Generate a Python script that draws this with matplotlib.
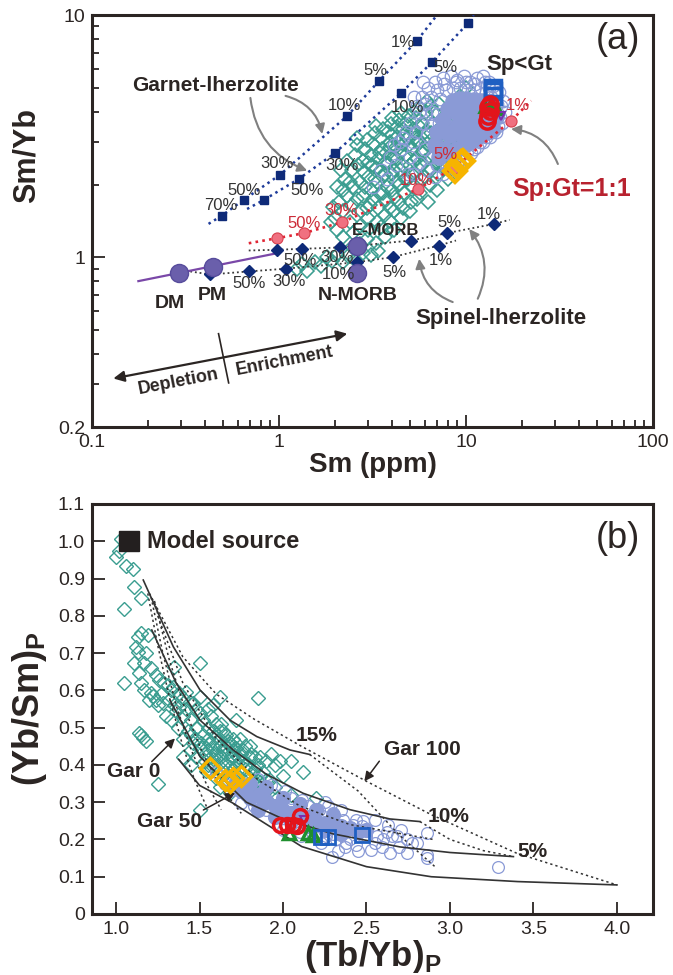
import numpy as np
import matplotlib.pyplot as plt
from matplotlib.ticker import FixedLocator, NullFormatter, FixedFormatter

plt.rcParams['font.family'] = ['Liberation Sans', 'DejaVu Sans']
plt.rcParams['mathtext.fontset'] = 'custom'
plt.rcParams['mathtext.rm'] = 'Liberation Sans'
plt.rcParams['mathtext.bf'] = 'Liberation Sans:bold'

INK = '#2b2523'
TEAL = '#3a9d90'
PERI = '#8a9ad6'
NAVY = '#0e2a78'
RED = '#e3141b'
PINK = '#f07080'
MAUVE = '#6a5fab'
GOLD = '#f6b400'
BLUE = '#1f5fc2'
GREEN = '#1f8f2e'
GREY = '#808080'

# ---------------- (a) Sm vs Sm/Yb ----------------
# garnet-lherzolite melting curves (Sm, Sm/Yb)
gt1_sm = [0.496, 0.648, 1.01, 2.32, 3.43, 5.46]
gt1_ratio = [1.49, 1.73, 2.19, 3.84, 5.35, 7.82]
gt1_line_sm = [0.42, 0.496, 0.648, 1.01, 2.32, 3.43, 5.46, 7.0]
gt1_line_ratio = [1.376, 1.49, 1.73, 2.19, 3.84, 5.35, 7.82, 10.0]

gt2_sm = [0.829, 1.277, 1.984, 4.48, 6.55, 10.3]
gt2_ratio = [1.727, 2.11, 2.69, 4.75, 6.37, 9.3]
gt2_line_sm = [0.675, 0.829, 1.277, 1.984, 4.48, 6.55, 10.3, 11.0]
gt2_line_ratio = [1.585, 1.727, 2.11, 2.69, 4.75, 6.37, 9.3, 10.0]

# Sp:Gt = 1:1 melting curve
sg_sm = [0.97, 1.36, 2.18, 5.55, 8.65, 17.4]
sg_ratio = [1.20, 1.26, 1.40, 1.92, 2.35, 3.66]
sg_line_sm = [0.689, 0.97, 1.36, 2.18, 5.55, 8.65, 17.4, 22.3]
sg_line_ratio = [1.145, 1.20, 1.26, 1.40, 1.92, 2.35, 3.66, 4.43]

# spinel-lherzolite melting curves
sp1_sm = [0.978, 1.33, 2.12, 5.07, 7.88, 14.2]
sp1_ratio = [1.076, 1.086, 1.10, 1.175, 1.26, 1.376]
sp1_line_sm = [0.689, 0.978, 1.33, 2.12, 5.07, 7.88, 14.2, 17.1]
sp1_line_ratio = [1.069, 1.076, 1.086, 1.10, 1.175, 1.26, 1.376, 1.43]

sp2_sm = [0.429, 0.689, 1.084, 2.60, 4.05, 7.14]
sp2_ratio = [0.851, 0.876, 0.899, 0.956, 1.003, 1.12]
sp2_line_sm = [0.3355, 0.429, 0.689, 1.084, 2.60, 4.05, 7.14, 8.84]
sp2_line_ratio = [0.876, 0.851, 0.876, 0.899, 0.956, 1.003, 1.12, 1.175]

# DM - PM array
mix_sm = [0.177, 0.937]
mix_ratio = [0.799, 1.035]

# reservoirs: DM, PM, E-MORB, N-MORB
res_sm = [0.293, 0.444, 2.60, 2.60]
res_ratio = [0.862, 0.918, 1.12, 0.862]

# samples, panel (a)
teal_a = [
    (1.25, 0.90), (1.33, 0.94), (1.42, 0.88), (1.55, 0.96), (1.68, 0.92), (1.80, 1.00),
    (1.92, 0.97), (2.05, 1.02), (2.2, 0.96), (2.35, 1.01), (2.55, 0.98), (2.8, 1.04),
    (3.1, 1.02), (3.4, 1.06), (2.45, 1.1), (2.7, 1.14), (2.95, 1.19), (3.3, 1.15),
    (3.7, 1.22), (4.1, 1.3), (2.2, 1.22), (2.5, 1.26), (3.0, 1.3), (3.5, 1.34),
    (3.9, 1.42), (4.5, 1.45), (5.0, 1.55), (2.0, 1.45), (2.1, 1.7), (1.95, 1.62),
    (2.05, 1.95), (2.2, 1.55), (2.3, 1.8), (2.25, 2.1), (2.4, 1.4), (2.45, 1.65),
    (2.5, 1.95), (2.45, 2.3), (2.55, 2.65), (2.6, 2.9), (2.7, 1.35), (2.75, 1.55),
    (2.8, 1.8), (2.7, 2.05), (2.85, 2.25), (2.8, 2.5), (2.9, 2.8), (2.95, 3.05),
    (3.0, 1.45), (3.05, 1.65), (3.1, 1.9), (3.0, 2.15), (3.15, 2.4), (3.1, 2.65),
    (3.2, 2.95), (3.25, 3.25), (3.35, 1.4), (3.4, 1.6), (3.45, 1.82), (3.35, 2.05),
    (3.5, 2.28), (3.4, 2.55), (3.55, 2.8), (3.5, 3.1), (3.6, 3.4), (3.7, 1.5),
    (3.75, 1.72), (3.8, 1.95), (3.7, 2.2), (3.85, 2.45), (3.75, 2.7), (3.9, 3.0),
    (3.85, 3.3), (3.95, 3.55), (4.1, 1.55), (4.15, 1.78), (4.2, 2.05), (4.1, 2.3),
    (4.25, 2.55), (4.2, 2.85), (4.3, 3.15), (4.25, 3.45), (4.4, 3.7), (4.6, 1.6),
    (4.65, 1.85), (4.7, 2.1), (4.55, 2.4), (4.75, 2.65), (4.6, 2.95), (4.8, 3.25),
    (4.7, 3.55), (4.9, 3.85), (5.1, 1.7), (5.2, 1.95), (5.15, 2.2), (5.3, 2.5),
    (5.1, 2.8), (5.35, 3.1), (5.2, 3.4), (5.4, 3.75), (5.5, 4.1), (5.7, 1.85),
    (5.8, 2.1), (5.75, 2.4), (5.9, 2.7), (5.7, 3.0), (6.0, 3.3), (5.85, 3.6),
    (6.1, 4.0), (6.2, 4.4), (6.4, 2.0), (6.5, 2.3), (6.4, 2.6), (6.6, 2.9),
    (6.5, 3.25), (6.7, 3.6), (6.8, 4.0), (7.1, 2.2), (7.2, 2.5), (7.3, 2.8),
    (7.1, 3.15), (7.4, 3.5), (7.6, 2.35), (7.9, 2.65), (8.2, 3.0), (8.0, 3.4),
    (8.6, 2.6), (9.0, 2.9), (8.8, 3.8), (9.5, 4.2), (10.0, 5.0), (9.2, 4.6),
    (8.3, 4.2), (2.3, 2.5), (2.15, 2.3), (2.6, 3.1), (3.3, 3.5), (4.0, 3.75),
    (4.5, 3.95), (2.05, 1.3), (1.9, 1.4), (6.3, 1.7), (7.0, 1.9), (8.0, 2.1),
    (3.2, 1.75), (3.6, 1.85), (4.0, 1.9), (4.4, 2.0), (4.9, 2.1), (3.3, 2.35),
    (3.7, 2.45), (4.05, 2.6), (4.45, 2.7), (4.95, 2.9), (5.5, 3.0), (3.45, 2.7),
    (3.9, 2.85), (4.35, 3.0), (4.85, 3.1), (5.25, 3.25), (2.9, 1.95), (3.25, 2.1),
    (3.6, 2.15), (4.0, 2.2), (4.45, 2.3), (5.0, 2.4), (5.5, 2.55), (6.0, 2.5),
    (2.6, 1.75), (2.95, 1.6), (3.9, 1.6), (4.4, 1.7), (5.5, 1.75), (6.0, 2.15),
    (6.9, 2.45), (6.2, 2.95), (6.9, 3.3), (5.6, 3.5), (4.6, 3.4), (4.0, 3.2),
    (3.0, 2.45), (2.65, 2.4), (2.4, 2.05), (2.2, 1.9), (5.3, 4.0), (6.5, 4.2),
    (7.2, 4.3), (7.6, 3.8), (8.5, 3.4), (7.8, 3.0),
]

peri_a = [
    (4.6, 3.1), (5.0, 3.6), (5.5, 4.2), (5.8, 4.6), (6.3, 5.0), (6.8, 5.3), (7.5, 5.5),
    (8.3, 5.6), (9.0, 5.4), (9.8, 5.6), (10.5, 5.3), (11.5, 5.5), (12.3, 5.6), (13.2, 5.3),
    (14.0, 5.1), (15.0, 4.8), (15.8, 4.4), (16.2, 4.0), (15.5, 3.6), (14.5, 3.3),
    (13.5, 3.15), (12.4, 3.0), (11.5, 2.85), (10.6, 2.7), (9.8, 2.55), (9.0, 2.45),
    (8.2, 2.3), (7.5, 2.2), (6.8, 2.15), (6.2, 2.3), (5.6, 2.45), (5.0, 2.6), (4.5, 2.8),
    (4.2, 2.4), (3.8, 2.1), (5.2, 3.0), (6.0, 2.8), (6.5, 3.5), (7.0, 3.9), (7.3, 4.5),
    (7.8, 4.9), (8.5, 5.0), (9.3, 5.0), (10.2, 4.9), (11.0, 4.9), (12.0, 5.0), (12.8, 4.8),
    (13.6, 4.6), (14.6, 4.3), (14.9, 3.9), (6.1, 3.9), (5.4, 3.3), (4.9, 2.2), (5.9, 5.3),
    (5.3, 4.6), (6.0, 4.3), (6.5, 4.6), (7.0, 4.9), (7.6, 5.2), (8.8, 5.3), (10.0, 5.3),
    (11.2, 5.2), (12.6, 5.3), (13.3, 5.0), (14.3, 4.7), (15.4, 4.2), (15.2, 3.8), (14.8, 3.5),
    (13.8, 3.3), (12.8, 3.15), (11.9, 3.0), (11.0, 2.8), (10.1, 2.75), (9.4, 2.65), (8.6, 2.5),
    (7.8, 2.45), (7.0, 2.4), (6.6, 2.6), (6.2, 3.2), (5.8, 3.6), (5.6, 4.0), (6.6, 4.0),
    (7.2, 3.6), (6.9, 3.0), (4.8, 3.3), (4.4, 3.0), (3.9, 2.6), (4.1, 2.9), (3.5, 2.3),
    (3.2, 1.95), (5.2, 2.2),
]
peri_a_core = [
    (7.0, 3.3), (7.5, 3.7), (8.0, 4.1), (8.5, 4.4), (9.2, 4.5), (10.0, 4.5), (11.0, 4.45),
    (12.0, 4.4), (13.0, 4.3), (14.0, 4.1), (14.5, 3.8), (14.0, 3.4), (13.0, 3.3), (12.0, 3.2),
    (11.0, 3.05), (10.0, 2.95), (9.0, 2.8), (8.3, 2.7), (7.6, 2.8), (8.2, 3.2), (9.0, 3.5),
    (10.0, 3.7), (11.0, 3.7), (12.0, 3.8), (13.0, 3.8), (9.5, 3.2), (10.5, 3.3), (11.5, 3.4),
    (8.8, 4.0), (9.8, 4.1), (10.8, 4.1), (11.8, 4.1), (12.8, 4.0), (7.8, 3.3), (6.8, 2.9),
    (7.2, 2.6),
]
gold_a = [(9.4, 2.47), (8.7, 2.28), (9.0, 2.38), (9.6, 2.51)]
sq_a = [(13.9, 4.87), (13.9, 4.64), (14.0, 5.0)]
red_a = [(13.1, 4.16), (13.5, 4.29), (12.9, 3.66), (13.1, 3.84), (13.5, 4.02)]
tri_a = [(13.5, 4.16), (14.7, 4.1), (12.6, 4.16)]
vio_a = [(15.4, 3.84)]

# ---------------- (b) (Tb/Yb)P vs (Yb/Sm)P ----------------
# melting curves
s1_x = [1.163, 1.343, 1.503, 1.683, 1.843, 2.042, 2.16]
s1_y = [0.896, 0.717, 0.601, 0.52, 0.476, 0.44, 0.428]
s2_x = [1.214, 1.36, 1.503, 1.702, 1.9, 2.12, 2.4, 2.64, 2.82]
s2_y = [0.762, 0.62, 0.52, 0.44, 0.375, 0.324, 0.28, 0.255, 0.248]
s3_x = [1.323, 1.503, 1.78, 2.0, 2.3, 2.7, 3.0, 3.38]
s3_y = [0.574, 0.422, 0.3, 0.255, 0.215, 0.18, 0.165, 0.154]
s4_x = [1.375, 1.5, 1.698, 2.112, 2.5, 2.888, 3.405, 4.0]
s4_y = [0.415, 0.345, 0.298, 0.181, 0.127, 0.10, 0.087, 0.078]

d1_x = [1.19, 1.25, 1.32, 1.40, 1.47, 1.55]
d1_y = [0.86, 0.72, 0.58, 0.45, 0.36, 0.28]
d2_x = [1.21, 1.28, 1.36, 1.45, 1.54, 1.63]
d2_y = [0.85, 0.70, 0.56, 0.44, 0.35, 0.28]
d3_x = [1.23, 1.32, 1.42, 1.52, 1.63, 1.75]
d3_y = [0.84, 0.68, 0.54, 0.43, 0.34, 0.27]
d4_x = [1.25, 1.40, 1.60, 1.85, 2.1, 2.4, 2.9]
d4_y = [0.80, 0.62, 0.47, 0.36, 0.29, 0.24, 0.20]
d5_x = [1.20, 1.40, 1.60, 1.83, 2.11, 2.5, 2.89, 3.40, 4.0]
d5_y = [0.86, 0.69, 0.59, 0.522, 0.45, 0.356, 0.266, 0.163, 0.078]
d6_x = [2.16, 2.45, 2.70, 2.91]
d6_y = [0.428, 0.33, 0.21, 0.127]
d7_x = [2.82, 3.0, 3.2, 3.38]
d7_y = [0.248, 0.2, 0.17, 0.154]

source_x, source_y = 1.08, 1.0

teal_b = [
    (1.03, 1.005), (1.02, 0.975), (1.00, 0.958), (1.06, 0.935), (1.10, 0.925), (1.11, 0.878),
    (1.15, 0.848), (1.05, 0.818), (1.15, 0.753), (1.13, 0.743), (1.19, 0.748), (1.12, 0.717),
    (1.13, 0.704), (1.11, 0.673), (1.17, 0.673), (1.21, 0.659), (1.14, 0.646), (1.05, 0.619),
    (1.15, 0.619), (1.26, 0.628), (1.35, 0.664), (1.50, 0.674), (1.21, 0.592), (1.24, 0.574),
    (1.31, 0.614), (1.34, 0.610), (1.28, 0.565), (1.38, 0.592), (1.42, 0.596), (1.46, 0.565),
    (1.50, 0.583), (1.62, 0.583), (1.14, 0.485), (1.16, 0.471), (1.30, 0.530), (1.38, 0.556),
    (1.20, 0.575), (1.22, 0.585), (1.25, 0.56), (1.27, 0.59), (1.32, 0.575), (1.36, 0.545),
    (1.40, 0.53), (1.33, 0.52), (1.37, 0.50), (1.42, 0.55), (1.45, 0.52), (1.48, 0.50),
    (1.43, 0.49), (1.40, 0.47), (1.46, 0.46), (1.50, 0.54), (1.52, 0.48), (1.55, 0.50),
    (1.50, 0.445), (1.53, 0.43), (1.56, 0.46), (1.58, 0.44), (1.60, 0.475), (1.62, 0.45),
    (1.58, 0.415), (1.61, 0.42), (1.64, 0.40), (1.66, 0.43), (1.68, 0.45), (1.70, 0.42),
    (1.72, 0.40), (1.65, 0.38), (1.68, 0.395), (1.74, 0.385), (1.76, 0.41), (1.78, 0.37),
    (1.80, 0.39), (1.82, 0.36), (1.75, 0.35), (1.84, 0.345), (1.86, 0.37), (1.88, 0.35),
    (1.90, 0.33), (1.92, 0.36), (1.55, 0.40), (1.52, 0.52), (1.57, 0.53), (1.63, 0.51),
    (1.66, 0.48), (1.70, 0.47), (1.72, 0.445), (1.48, 0.42), (1.45, 0.44), (1.54, 0.385),
    (1.60, 0.365), (1.93, 0.43), (1.98, 0.41), (2.05, 0.41), (2.12, 0.38), (1.85, 0.58),
    (1.72, 0.52), (1.80, 0.45), (1.95, 0.40), (2.00, 0.37), (2.20, 0.31), (2.05, 0.32),
    (1.97, 0.315), (1.15, 0.48), (1.18, 0.465), (1.25, 0.35), (1.50, 0.28), (1.68, 0.325),
    (1.62, 0.34), (1.45, 0.40), (1.40, 0.42),
    (1.55, 0.47), (1.58, 0.49), (1.62, 0.47), (1.65, 0.45), (1.60, 0.43), (1.63, 0.42),
    (1.67, 0.41), (1.70, 0.39), (1.73, 0.42), (1.75, 0.43), (1.78, 0.40), (1.80, 0.42),
    (1.83, 0.39), (1.85, 0.40), (1.88, 0.38), (1.70, 0.44), (1.68, 0.46), (1.74, 0.47),
    (1.77, 0.45), (1.64, 0.49), (1.60, 0.51), (1.55, 0.55), (1.58, 0.56), (1.48, 0.55),
    (1.44, 0.57), (1.40, 0.58), (1.45, 0.48), (1.51, 0.46), (1.48, 0.47), (1.35, 0.56),
    (1.33, 0.60), (1.29, 0.62), (1.24, 0.64), (1.18, 0.70), (1.17, 0.60), (1.90, 0.36),
    (1.86, 0.33), (1.82, 0.34), (1.79, 0.35), (1.95, 0.34), (1.70, 0.36), (1.66, 0.36),
    (1.57, 0.42), (1.53, 0.41), (1.83, 0.42), (1.90, 0.41),
    (1.59, 0.455), (1.64, 0.435), (1.69, 0.425), (1.73, 0.405), (1.77, 0.39), (1.81, 0.375),
    (1.62, 0.49), (1.67, 0.465), (1.72, 0.46), (1.76, 0.44), (1.81, 0.43), (1.86, 0.42),
    (1.54, 0.445), (1.57, 0.40), (1.62, 0.385), (1.67, 0.37), (1.73, 0.37), (1.86, 0.355),
]
peri_b = [
    (2.862, 0.217), (2.862, 0.158), (2.862, 0.149), (3.289, 0.127), (2.771, 0.19), (2.745, 0.163),
    (2.642, 0.163), (2.694, 0.181), (2.655, 0.208), (2.59, 0.181), (2.552, 0.19), (2.526, 0.172),
    (2.552, 0.253), (2.435, 0.253), (2.358, 0.253), (2.293, 0.154), (2.267, 0.289), (2.215, 0.28),
    (2.112, 0.307), (2.009, 0.329), (1.931, 0.347), (1.853, 0.361), (1.75, 0.298), (1.828, 0.289),
    (1.905, 0.307), (2.0, 0.226), (2.11, 0.208), (2.228, 0.19), (2.37, 0.181), (2.474, 0.235),
    (2.629, 0.239), (2.707, 0.226), (1.62, 0.37), (1.68, 0.33), (1.78, 0.32), (2.4, 0.2),
    (2.5, 0.21), (2.3, 0.215), (2.2, 0.235), (2.6, 0.2),
    (1.72, 0.36), (1.78, 0.34), (1.84, 0.30), (1.9, 0.28), (1.96, 0.27), (2.02, 0.26),
    (2.08, 0.25), (2.14, 0.245), (2.2, 0.22), (2.26, 0.21), (2.32, 0.2), (2.38, 0.19),
    (2.44, 0.185), (2.56, 0.21), (2.62, 0.22), (2.68, 0.21), (2.74, 0.2), (2.8, 0.19),
    (2.42, 0.24), (2.48, 0.25), (2.3, 0.27), (2.35, 0.28), (2.25, 0.3), (2.15, 0.29),
    (2.05, 0.31), (1.95, 0.32), (1.88, 0.33), (1.65, 0.35), (1.6, 0.38), (2.33, 0.17),
    (2.45, 0.17), (2.1, 0.22),
]
peri_b_core = [
    (1.75, 0.33), (1.80, 0.31), (1.85, 0.32), (1.90, 0.30), (1.95, 0.29), (2.00, 0.28),
    (2.05, 0.27), (2.10, 0.265), (2.15, 0.26), (2.20, 0.25), (2.25, 0.245), (2.30, 0.24),
    (2.35, 0.235), (2.40, 0.23), (1.85, 0.28), (1.95, 0.26), (2.05, 0.25), (2.15, 0.235),
    (2.25, 0.225), (2.35, 0.215), (1.90, 0.34), (2.00, 0.31), (2.10, 0.295), (2.20, 0.28),
    (2.30, 0.265), (1.80, 0.35), (1.70, 0.34), (2.45, 0.22), (2.50, 0.225),
]
gold_b = [(1.565, 0.393), (1.655, 0.36), (1.70, 0.366), (1.75, 0.37), (1.68, 0.355)]
red_b = [(1.983, 0.239), (2.021, 0.239), (2.06, 0.239), (2.099, 0.262), (2.086, 0.236)]
tri_b = [(2.034, 0.217), (2.151, 0.217), (2.177, 0.212)]
vio_b = [(2.125, 0.253)]
sq_b = [(2.228, 0.206), (2.267, 0.206), (2.474, 0.212)]


def xy(points):
    arr = np.array(points)
    return arr[:, 0], arr[:, 1]


fig = plt.figure(figsize=(6.73, 9.75), dpi=100)
ax1 = fig.add_axes([92 / 673, 1 - 427 / 975, 561 / 673, 412 / 975])
ax2 = fig.add_axes([92 / 673, 1 - 914 / 975, 561 / 673, 410 / 975])

for ax in (ax1, ax2):
    for sp in ax.spines.values():
        sp.set_linewidth(2.2)
        sp.set_color(INK)
    ax.tick_params(which='both', direction='in', colors=INK, labelcolor=INK,
                   labelsize=14, top=False, right=False, width=1.3)
    ax.tick_params(which='major', length=9, pad=5)
    ax.tick_params(which='minor', length=5)

# ---- panel (a)
ax1.set_xscale('log')
ax1.set_yscale('log')
ax1.set_xlim(0.1, 100)
ax1.set_ylim(0.2, 10)
ax1.xaxis.set_major_locator(FixedLocator([0.1, 1, 10, 100]))
ax1.xaxis.set_major_formatter(FixedFormatter(['0.1', '1', '10', '100']))
ax1.xaxis.set_minor_locator(FixedLocator([k * 10.0 ** e for e in (-1, 0, 1) for k in range(2, 10)]))
ax1.xaxis.set_minor_formatter(NullFormatter())
ax1.yaxis.set_major_locator(FixedLocator([0.2, 1, 10]))
ax1.yaxis.set_major_formatter(FixedFormatter(['0.2', '1', '10']))
ax1.yaxis.set_minor_locator(FixedLocator([0.3, 0.4, 0.5, 0.6, 0.7, 0.8, 0.9] + list(range(2, 10))))
ax1.yaxis.set_minor_formatter(NullFormatter())
ax1.set_xlabel('Sm (ppm)', fontsize=20, fontweight='bold', color=INK, labelpad=1)
ax1.set_ylabel('Sm/Yb', fontsize=22, fontweight='bold', color=INK)
ax1.yaxis.set_label_coords(-0.09, 0.66)

x, y = xy(teal_a)
ax1.plot(x, y, 'D', ms=7.5, mfc='none', mec=TEAL, mew=1.15, zorder=2)
x, y = xy(peri_a_core)
ax1.plot(x, y, 'o', ms=11, mfc=PERI, mec=PERI, mew=0.9, zorder=2)
x, y = xy(peri_a)
ax1.plot(x, y, 'o', ms=9, mfc='none', mec=PERI, mew=0.9, zorder=2)

dot = (0, (1, 1.6))
ax1.plot(gt1_line_sm, gt1_line_ratio, color='#1f3c9a', lw=1.8, ls=dot, zorder=3)
ax1.plot(gt2_line_sm, gt2_line_ratio, color='#1f3c9a', lw=1.8, ls=dot, zorder=3)
ax1.plot(gt1_sm, gt1_ratio, 's', ms=6, color=NAVY, zorder=4)
ax1.plot(gt2_sm, gt2_ratio, 's', ms=6, color=NAVY, zorder=4)
ax1.plot(sg_line_sm, sg_line_ratio, color='#e02634', lw=1.9, ls=dot, zorder=3)
ax1.plot(sg_sm, sg_ratio, 'o', ms=8, mfc=PINK, mec='#d8404e', mew=0.8, zorder=4)
ax1.plot(sp1_line_sm, sp1_line_ratio, color='#3a3a3a', lw=1.3, ls=dot, zorder=3)
ax1.plot(sp2_line_sm, sp2_line_ratio, color='#3a3a3a', lw=1.3, ls=dot, zorder=3)
ax1.plot(sp1_sm, sp1_ratio, 'D', ms=6, color=NAVY, zorder=4)
ax1.plot(sp2_sm, sp2_ratio, 'D', ms=6, color=NAVY, zorder=4)
ax1.plot(mix_sm, mix_ratio, color='#7a48a8', lw=1.6, zorder=3)
ax1.plot(res_sm, res_ratio, 'o', ms=13, mfc=MAUVE, mec='#574c9c', mew=1, zorder=5)

x, y = xy(gold_a)
ax1.plot(x, y, 'D', ms=11, mfc='none', mec=GOLD, mew=3, zorder=6)
x, y = xy(sq_a)
ax1.plot(x, y, 's', ms=11, mfc='none', mec=BLUE, mew=2.5, zorder=6)
x, y = xy(red_a)
ax1.plot(x, y, 'o', ms=11, mfc='none', mec=RED, mew=2.5, zorder=7)
x, y = xy(tri_a)
ax1.plot(x, y, '^', ms=9, mfc=GREEN, mec=GREEN, mew=1.5, zorder=6)
x, y = xy(vio_a)
ax1.plot(x, y, 'v', ms=6, mfc='none', mec='#7a2fb0', mew=1.5, zorder=6)

# curve labels
pct_kw = dict(fontsize=12, color='#333333', ha='center', va='center', zorder=8)
for txt, xx, yy in [('70%', 0.486, 1.637), ('50%', 0.648, 1.887), ('30%', 0.978, 2.43),
                    ('10%', 2.23, 4.22), ('5%', 3.29, 5.88), ('1%', 4.58, 7.69),
                    ('50%', 1.416, 1.887), ('30%', 2.18, 2.39), ('10%', 4.86, 4.16),
                    ('5%', 7.81, 6.07),
                    ('50%', 1.30, 0.972), ('30%', 2.05, 1.0), ('5%', 8.14, 1.40), ('1%', 13.3, 1.51),
                    ('50%', 0.689, 0.779), ('30%', 1.13, 0.797), ('10%', 2.09, 0.851),
                    ('5%', 4.13, 0.87), ('1%', 7.34, 0.972)]:
    ax1.text(xx, yy, txt, **pct_kw)
red_kw = dict(fontsize=12, color='#cc2b38', ha='center', va='center', zorder=8)
for txt, xx, yy in [('50%', 1.36, 1.376), ('30%', 2.14, 1.56), ('10%', 5.4, 2.07),
                    ('5%', 7.81, 2.67), ('1%', 18.9, 4.22)]:
    ax1.text(xx, yy, txt, **red_kw)

bold = dict(fontweight='bold', color=INK, ha='center', va='center', zorder=8)
ax1.text(0.262, 0.645, 'DM', fontsize=14, **bold)
ax1.text(0.439, 0.698, 'PM', fontsize=14, **bold)
ax1.text(2.63, 0.698, 'N-MORB', fontsize=14, **bold)
ax1.text(3.73, 1.29, 'E-MORB', fontsize=12, **bold)
ax1.text(0.163, 5.1, 'Garnet-lherzolite', fontsize=15, fontweight='bold', color=INK,
         ha='left', va='center', zorder=8)
ax1.text(15.4, 0.56, 'Spinel-lherzolite', fontsize=16, **bold)
ax1.text(19.3, 6.27, 'Sp<Gt', fontsize=16, **bold)
ax1.text(36.6, 1.92, 'Sp:Gt=1:1', fontsize=18, fontweight='bold', color='#b8222f',
         ha='center', va='center')
ax1.text(0.938, 0.94, '(a)', transform=ax1.transAxes, fontsize=26, color=INK,
         ha='center', va='center')

garrow = dict(arrowstyle='-|>', color=GREY, lw=1.5, mutation_scale=14, shrinkA=0, shrinkB=0)
ax1.annotate('', xy=(1.416, 2.28), xytext=(0.703, 4.55),
             arrowprops=dict(garrow, connectionstyle='arc3,rad=0.3'))
ax1.annotate('', xy=(1.705, 3.23), xytext=(1.084, 4.64),
             arrowprops=dict(garrow, connectionstyle='arc3,rad=-0.3'))
ax1.annotate('', xy=(17.4, 3.39), xytext=(31.0, 2.43),
             arrowprops=dict(garrow, connectionstyle='arc3,rad=0.3'))
ax1.annotate('', xy=(5.62, 0.988), xytext=(8.49, 0.655),
             arrowprops=dict(garrow, connectionstyle='arc3,rad=-0.3'))
ax1.annotate('', xy=(10.4, 1.31), xytext=(11.56, 0.676),
             arrowprops=dict(garrow, connectionstyle='arc3,rad=0.3'))

# depletion / enrichment arrow
ax1.annotate('', xy=(0.130, 0.317), xytext=(2.32, 0.485),
             arrowprops=dict(arrowstyle='<|-|>', color=INK, lw=1.6, mutation_scale=16,
                             shrinkA=0, shrinkB=0))
ax1.plot([0.475, 0.538], [0.485, 0.304], color=INK, lw=1.2)
ax1.text(0.290, 0.307, 'Depletion', fontsize=13, rotation=11, **bold)
ax1.text(1.07, 0.374, 'Enrichment', fontsize=13, rotation=11, **bold)

# ---- panel (b)
ax2.set_xlim(0.856, 4.216)
ax2.set_ylim(0, 1.1)
ax2.set_xticks([1.0, 1.5, 2.0, 2.5, 3.0, 3.5, 4.0])
ax2.set_xticklabels(['1.0', '1.5', '2.0', '2.5', '3.0', '3.5', '4.0'])
yt = [0, 0.1, 0.2, 0.3, 0.4, 0.5, 0.6, 0.7, 0.8, 0.9, 1.0, 1.1]
ax2.set_yticks(yt)
ax2.set_yticklabels(['0'] + ['%.1f' % v for v in yt[1:]])
ax2.set_xlabel(r'$\mathbf{(Tb/Yb)}_{\mathbf{P}}$', fontsize=25, color=INK, labelpad=0)
ax2.set_ylabel(r'$\mathbf{(Yb/Sm)}_{\mathbf{P}}$', fontsize=26, color=INK, labelpad=6)

x, y = xy(teal_b)
ax2.plot(x, y, 'D', ms=6.8, mfc='none', mec=TEAL, mew=1.0, zorder=2)
x, y = xy(peri_b_core)
ax2.plot(x, y, 'o', ms=10, mfc=PERI, mec=PERI, mew=0.9, zorder=2)
x, y = xy(peri_b)
ax2.plot(x, y, 'o', ms=8.5, mfc='none', mec=PERI, mew=0.9, zorder=2)

for cx, cy in [(s1_x, s1_y), (s2_x, s2_y), (s3_x, s3_y), (s4_x, s4_y)]:
    ax2.plot(cx, cy, color='#333333', lw=1.2, zorder=3)
for cx, cy in [(d1_x, d1_y), (d2_x, d2_y), (d3_x, d3_y), (d4_x, d4_y), (d5_x, d5_y),
               (d6_x, d6_y), (d7_x, d7_y)]:
    ax2.plot(cx, cy, color='#333333', lw=1.1, ls=(0, (1.5, 2)), zorder=3)

x, y = xy(gold_b)
ax2.plot(x, y, 'D', ms=10, mfc='none', mec=GOLD, mew=2.5, zorder=6)
x, y = xy(red_b)
ax2.plot(x, y, 'o', ms=10, mfc='none', mec=RED, mew=2.5, zorder=7)
x, y = xy(tri_b)
ax2.plot(x, y, '^', ms=9, mfc='none', mec=GREEN, mew=2.5, zorder=6)
x, y = xy(vio_b)
ax2.plot(x, y, 'v', ms=6, mfc='none', mec='#7a2fb0', mew=1.5, zorder=6)
x, y = xy(sq_b)
ax2.plot(x, y, 's', ms=10, mfc='none', mec=BLUE, mew=2, zorder=6)

ax2.plot([source_x], [source_y], 's', ms=14, color='#231f1f', zorder=8)
ax2.text(1.643, 1.0, 'Model source', fontsize=17, **bold)
ax2.text(0.938, 0.917, '(b)', transform=ax2.transAxes, fontsize=26, color=INK,
         ha='center', va='center')
ax2.text(2.2, 0.48, '15%', fontsize=15, **bold)
ax2.text(2.99, 0.262, '10%', fontsize=15, **bold)
ax2.text(3.496, 0.167, '5%', fontsize=15, **bold)
ax2.text(1.104, 0.382, 'Gar 0', fontsize=15, **bold)
ax2.text(1.323, 0.247, 'Gar 50', fontsize=15, **bold)
ax2.text(2.836, 0.4416, 'Gar 100', fontsize=15, **bold)
karrow = dict(arrowstyle='-|>', color=INK, lw=1.1, mutation_scale=14, shrinkA=0, shrinkB=0)
ax2.annotate('', xy=(1.353, 0.471), xytext=(1.214, 0.409), arrowprops=karrow)
ax2.annotate('', xy=(1.713, 0.325), xytext=(1.523, 0.279), arrowprops=karrow)
ax2.annotate('', xy=(2.487, 0.356), xytext=(2.577, 0.41), arrowprops=karrow)

fig.savefig('out.png', dpi=100)
